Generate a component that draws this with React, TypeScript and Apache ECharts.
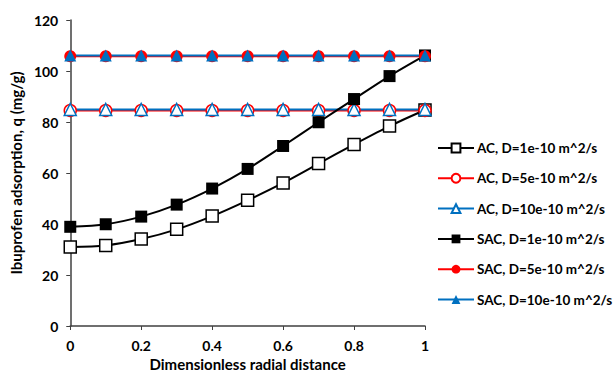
import React, { useEffect, useRef } from "react";
import * as echarts from "echarts";

// Dimensionless radial distance
const radialDistance = [0, 0.1, 0.2, 0.3, 0.4, 0.5, 0.6, 0.7, 0.8, 0.9, 1];

// Ibuprofen adsorption q (mg/g)
const acD1 = [31, 31.6, 34.1, 37.9, 43.1, 49.3, 56.1, 63.7, 71.2, 78.4, 84.7];
const acD5 = [84.5, 84.5, 84.5, 84.5, 84.5, 84.5, 84.5, 84.5, 84.5, 84.5, 84.5];
const acD10 = [84.9, 84.9, 84.9, 84.9, 84.9, 84.9, 84.9, 84.9, 84.9, 84.9, 84.9];
const sacD1 = [38.9, 39.9, 42.9, 47.6, 53.9, 61.6, 70.6, 79.9, 89.0, 98.0, 106.1];
const sacD5 = [105.8, 105.8, 105.8, 105.8, 105.8, 105.8, 105.8, 105.8, 105.8, 105.8, 105.8];
const sacD10 = [106.1, 106.1, 106.1, 106.1, 106.1, 106.1, 106.1, 106.1, 106.1, 106.1, 106.1];

const seriesNames = [
  "AC, D=1e-10 m^2/s",
  "AC, D=5e-10 m^2/s",
  "AC, D=10e-10 m^2/s",
  "SAC, D=1e-10 m^2/s",
  "SAC, D=5e-10 m^2/s",
  "SAC, D=10e-10 m^2/s",
];

const FONT = "Lato, 'Open Sans', sans-serif";

export default function App() {
  const ref = useRef<HTMLDivElement>(null);

  useEffect(() => {
    document.body.style.margin = "0";
    if (!ref.current) return;
    const chart = echarts.init(ref.current, undefined, { renderer: "svg" });

    const pair = (vals: number[]) => radialDistance.map((x, i) => [x, vals[i]]);

    const mk = (
      name: string,
      vals: number[],
      color: string,
      symbol: string,
      filled: boolean,
      size: number
    ) => ({
      name,
      type: "line",
      data: pair(vals),
      smooth: 0.3,
      symbol,
      symbolSize: size,
      showAllSymbol: true,
      lineStyle: { color, width: 2 },
      itemStyle: {
        color: filled ? color : "#ffffff",
        borderColor: color,
        borderWidth: filled ? 0 : 1.5,
      },
    });

    chart.setOption({
      animation: false,
      backgroundColor: "#ffffff",
      grid: { left: 68, right: 191, top: 20, bottom: 51 },
      legend: {
        orient: "vertical",
        left: 432,
        top: 136,
        itemWidth: 36,
        itemHeight: 11,
        itemGap: 16.3,
        textStyle: { fontFamily: FONT, fontWeight: "bold", fontSize: 13.5, color: "#000", padding: [0, 0, 0, -2] },
        data: seriesNames,
      },
      xAxis: {
        type: "value",
        min: 0,
        max: 1,
        interval: 0.2,
        name: "Dimensionless radial distance",
        nameLocation: "middle",
        nameGap: 29,
        nameTextStyle: { fontFamily: FONT, fontWeight: "bold", fontSize: 15, color: "#000" },
        axisLine: { show: true, lineStyle: { color: "#404040", width: 1.5 } },
        axisTick: { show: true, inside: false, length: 4, lineStyle: { color: "#404040" } },
        axisLabel: {
          fontFamily: FONT,
          fontWeight: "bold",
          fontSize: 14,
          color: "#000",
          margin: 12,
          formatter: (v: number) => String(Math.round(v * 10) / 10),
        },
        splitLine: { show: false },
      },
      yAxis: {
        type: "value",
        min: 0,
        max: 120,
        interval: 20,
        name: "Ibuprofen adsorption, q (mg/g)",
        nameLocation: "middle",
        nameGap: 47,
        nameRotate: 90,
        nameTextStyle: { fontFamily: FONT, fontWeight: "bold", fontSize: 15, color: "#000" },
        axisLine: { show: true, lineStyle: { color: "#404040", width: 1.5 } },
        axisTick: { show: true, inside: false, length: 4, lineStyle: { color: "#404040" } },
        axisLabel: { fontFamily: FONT, fontWeight: "bold", fontSize: 14, color: "#000", margin: 12 },
        splitLine: { show: false },
      },
      series: [
        mk(seriesNames[0], acD1, "#000000", "rect", false, 12),
        mk(seriesNames[1], acD5, "#ff0000", "circle", false, 12),
        mk(seriesNames[2], acD10, "#0070c0", "triangle", false, 12),
        mk(seriesNames[3], sacD1, "#000000", "rect", true, 12),
        mk(seriesNames[4], sacD5, "#ff0000", "circle", true, 12),
        mk(seriesNames[5], sacD10, "#0070c0", "triangle", true, 12),
      ],
    });

    return () => chart.dispose();
  }, []);

  return <div ref={ref} style={{ width: 616, height: 377 }} />;
}
